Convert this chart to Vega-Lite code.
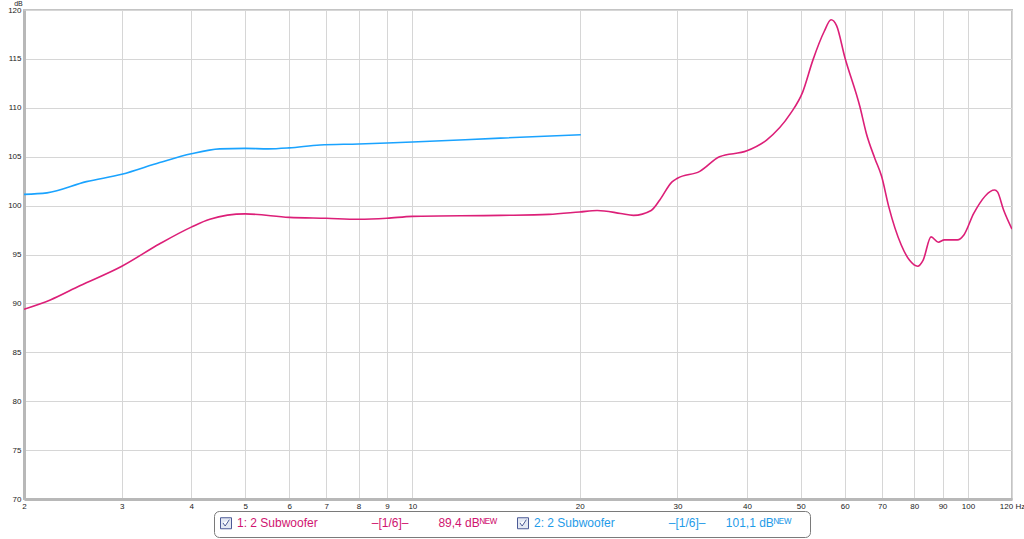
{
  "$schema": "https://vega.github.io/schema/vega-lite/v6.json",
  "width": 988,
  "height": 489,
  "autosize": "none",
  "padding": {"left": 24, "top": 10, "right": 12, "bottom": 40},
  "background": "white",
  "config": {
    "view": {"stroke": "#c4c4c4", "strokeWidth": 2},
    "font": "Liberation Sans"
  },
  "data": {
    "values": [
      {"series": "1: 2 Subwoofer", "f": 2.0, "db": 89.4},
      {"series": "1: 2 Subwoofer", "f": 2.23, "db": 90.35},
      {"series": "1: 2 Subwoofer", "f": 2.52, "db": 91.8},
      {"series": "1: 2 Subwoofer", "f": 3.0, "db": 93.8},
      {"series": "1: 2 Subwoofer", "f": 3.51, "db": 96.1},
      {"series": "1: 2 Subwoofer", "f": 4.0, "db": 97.8},
      {"series": "1: 2 Subwoofer", "f": 4.32, "db": 98.6},
      {"series": "1: 2 Subwoofer", "f": 5.0, "db": 99.15},
      {"series": "1: 2 Subwoofer", "f": 6.0, "db": 98.8},
      {"series": "1: 2 Subwoofer", "f": 7.0, "db": 98.7},
      {"series": "1: 2 Subwoofer", "f": 8.0, "db": 98.6},
      {"series": "1: 2 Subwoofer", "f": 9.0, "db": 98.7},
      {"series": "1: 2 Subwoofer", "f": 10.0, "db": 98.9},
      {"series": "1: 2 Subwoofer", "f": 14.4, "db": 99.0},
      {"series": "1: 2 Subwoofer", "f": 17.6, "db": 99.1},
      {"series": "1: 2 Subwoofer", "f": 20.0, "db": 99.35},
      {"series": "1: 2 Subwoofer", "f": 21.5, "db": 99.5},
      {"series": "1: 2 Subwoofer", "f": 23.7, "db": 99.2},
      {"series": "1: 2 Subwoofer", "f": 25.0, "db": 99.0},
      {"series": "1: 2 Subwoofer", "f": 26.9, "db": 99.5},
      {"series": "1: 2 Subwoofer", "f": 27.9, "db": 100.6},
      {"series": "1: 2 Subwoofer", "f": 29.3, "db": 102.4},
      {"series": "1: 2 Subwoofer", "f": 30.0, "db": 102.8},
      {"series": "1: 2 Subwoofer", "f": 32.9, "db": 103.5},
      {"series": "1: 2 Subwoofer", "f": 35.7, "db": 105.0},
      {"series": "1: 2 Subwoofer", "f": 40.0, "db": 105.6},
      {"series": "1: 2 Subwoofer", "f": 43.4, "db": 106.7},
      {"series": "1: 2 Subwoofer", "f": 47.9, "db": 109.4},
      {"series": "1: 2 Subwoofer", "f": 50.4, "db": 111.6},
      {"series": "1: 2 Subwoofer", "f": 52.6, "db": 114.9},
      {"series": "1: 2 Subwoofer", "f": 55.1, "db": 117.8},
      {"series": "1: 2 Subwoofer", "f": 56.7, "db": 119.0},
      {"series": "1: 2 Subwoofer", "f": 58.0, "db": 118.4},
      {"series": "1: 2 Subwoofer", "f": 60.0, "db": 115.2},
      {"series": "1: 2 Subwoofer", "f": 63.9, "db": 110.1},
      {"series": "1: 2 Subwoofer", "f": 65.6, "db": 107.4},
      {"series": "1: 2 Subwoofer", "f": 68.0, "db": 104.8},
      {"series": "1: 2 Subwoofer", "f": 69.9, "db": 103.0},
      {"series": "1: 2 Subwoofer", "f": 72.0, "db": 99.9},
      {"series": "1: 2 Subwoofer", "f": 75.8, "db": 96.0},
      {"series": "1: 2 Subwoofer", "f": 78.5, "db": 94.4},
      {"series": "1: 2 Subwoofer", "f": 81.2, "db": 93.8},
      {"series": "1: 2 Subwoofer", "f": 83.0, "db": 94.4},
      {"series": "1: 2 Subwoofer", "f": 85.8, "db": 96.8},
      {"series": "1: 2 Subwoofer", "f": 88.4, "db": 96.25},
      {"series": "1: 2 Subwoofer", "f": 90.7, "db": 96.5},
      {"series": "1: 2 Subwoofer", "f": 95.7, "db": 96.5},
      {"series": "1: 2 Subwoofer", "f": 98.3, "db": 97.0},
      {"series": "1: 2 Subwoofer", "f": 102.4, "db": 99.2},
      {"series": "1: 2 Subwoofer", "f": 111.7, "db": 101.6},
      {"series": "1: 2 Subwoofer", "f": 113.0, "db": 101.4},
      {"series": "1: 2 Subwoofer", "f": 115.9, "db": 99.55},
      {"series": "1: 2 Subwoofer", "f": 120.0, "db": 97.6},
      {"series": "2: 2 Subwoofer", "f": 2.0, "db": 101.15},
      {"series": "2: 2 Subwoofer", "f": 2.2, "db": 101.3},
      {"series": "2: 2 Subwoofer", "f": 2.59, "db": 102.45},
      {"series": "2: 2 Subwoofer", "f": 3.0, "db": 103.2},
      {"series": "2: 2 Subwoofer", "f": 3.51, "db": 104.4},
      {"series": "2: 2 Subwoofer", "f": 4.0, "db": 105.3},
      {"series": "2: 2 Subwoofer", "f": 4.5, "db": 105.8},
      {"series": "2: 2 Subwoofer", "f": 5.0, "db": 105.85},
      {"series": "2: 2 Subwoofer", "f": 5.5, "db": 105.8},
      {"series": "2: 2 Subwoofer", "f": 6.0, "db": 105.9},
      {"series": "2: 2 Subwoofer", "f": 6.82, "db": 106.2},
      {"series": "2: 2 Subwoofer", "f": 8.0, "db": 106.3},
      {"series": "2: 2 Subwoofer", "f": 9.0, "db": 106.4},
      {"series": "2: 2 Subwoofer", "f": 10.0, "db": 106.5},
      {"series": "2: 2 Subwoofer", "f": 14.4, "db": 106.9},
      {"series": "2: 2 Subwoofer", "f": 20.1, "db": 107.25}
    ]
  },
  "mark": {"type": "line", "interpolate": "monotone", "strokeWidth": 1.6, "clip": true},
  "encoding": {
    "x": {
      "field": "f",
      "type": "quantitative",
      "scale": {"type": "log", "domain": [2, 120], "nice": false},
      "axis": {
        "values": [2, 3, 4, 5, 6, 7, 8, 9, 10, 20, 30, 40, 50, 60, 70, 80, 90, 100, 120],
        "format": "d",
        "labelExpr": "datum.value == 120 ? '120 Hz' : datum.label",
        "title": null,
        "grid": true,
        "gridColor": "#d6d6d6",
        "ticks": false,
        "domainColor": "#b8b8b8",
        "domainWidth": 3,
        "labelFontSize": 8,
        "labelColor": "#222222",
        "labelPadding": 3,
        "labelFlush": false,
        "labelOverlap": false
      }
    },
    "y": {
      "field": "db",
      "type": "quantitative",
      "scale": {"domain": [70, 120], "nice": false, "zero": false},
      "axis": {
        "values": [70, 75, 80, 85, 90, 95, 100, 105, 110, 115, 120],
        "title": "dB",
        "titleAngle": 0,
        "titleFontSize": 7,
        "titleFontWeight": "normal",
        "titleColor": "#222222",
        "titleAlign": "center",
        "titleBaseline": "bottom",
        "titleX": -6,
        "titleY": -4,
        "grid": true,
        "gridColor": "#d6d6d6",
        "ticks": false,
        "domainColor": "#b8b8b8",
        "domainWidth": 3,
        "labelFontSize": 8,
        "labelColor": "#222222",
        "labelPadding": 3
      }
    },
    "color": {
      "field": "series",
      "type": "nominal",
      "scale": {"range": ["#dc1f78", "#1aa3ff"]},
      "legend": null
    },
    "opacity": {
      "field": "series",
      "type": "nominal",
      "scale": {"domain": ["1: 2 Subwoofer", "2: 2 Subwoofer"], "range": [1, 1]},
      "legend": {
        "orient": "none",
        "legendX": 190,
        "legendY": 501,
        "direction": "horizontal",
        "columns": 2,
        "title": null,
        "strokeColor": "#7a7a7a",
        "cornerRadius": 5,
        "padding": 6,
        "fillColor": "white",
        "labelFontSize": 12,
        "labelLimit": 600,
        "labelOffset": 5,
        "columnPadding": 17,
        "symbolType": "M-1,-1H1V1H-1Z M-0.55,-0.05 L-0.15,0.5 L0.6,-0.65",
        "symbolSize": 121,
        "symbolFillColor": "#e4e9f3",
        "symbolStrokeColor": "#4b5a96",
        "symbolStrokeWidth": 1,
        "labelExpr": "datum.value == '1: 2 Subwoofer' ? '1: 2 Subwoofer\u2003\u2003\u2003\u2003\u2002\u2013[1/6]\u2013\u2003\u2003\u200289,4 dB\u1d3a\u1d31\u1d42' : '2: 2 Subwoofer\u2003\u2003\u2003\u2003\u2002\u2013[1/6]\u2013\u2003\u2002\u2009101,1 dB\u1d3a\u1d31\u1d42\u2003\u200b'",
        "encode": {
          "symbols": {
            "update": {
              "stroke": {"value": "#4b5a96"},
              "fill": {"value": "#e4e9f3"},
              "opacity": {"value": 1}
            }
          },
          "labels": {
            "update": {
              "fill": {"signal": "datum.value == '1: 2 Subwoofer' ? '#cf1470' : '#1f9be8'"}
            }
          }
        }
      }
    }
  }
}
